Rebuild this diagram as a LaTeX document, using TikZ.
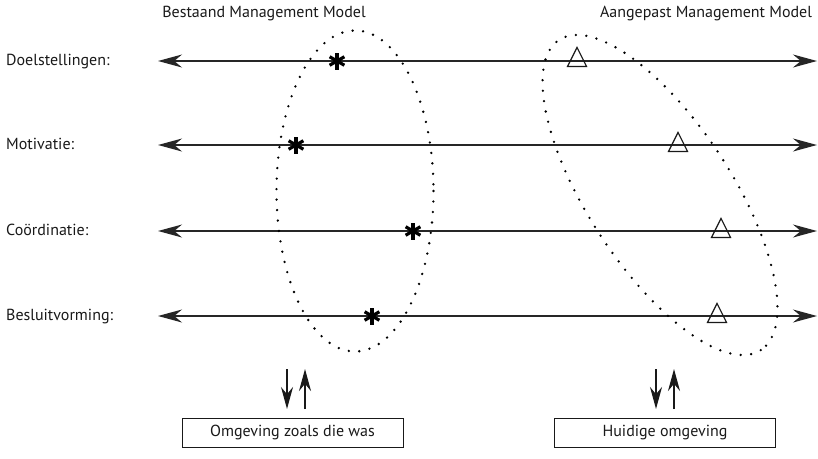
\documentclass[tikz,border=0pt]{standalone}
\usepackage{fontspec}
\setmainfont{PT Sans}
\usetikzlibrary{arrows.meta,shapes.geometric,positioning}

\tikzset{
  tekst/.style={font=\fontsize{16}{19}\selectfont, text=black!90},
  rij/.style={tekst, anchor=base west, inner sep=0pt},
  as/.style={draw=black!85, line width=1.4pt,
    {Stealth[length=24pt,width=13pt]}-{Stealth[length=24pt,width=13pt]}},
  ster/.style={circle, minimum size=19pt, inner sep=0pt,
    path picture={\foreach \a in {30,90,150,210,270,330}
      \draw[line width=3.2pt, black] (path picture bounding box.center) -- ++(\a:8.5pt);}},
  drie/.style={isosceles triangle, isosceles triangle stretches, shape border rotate=90,
    draw=black!90, line width=1.2pt, minimum width=19pt, minimum height=19pt,
    inner sep=0pt, anchor=south},
  omg/.style={tekst, draw=black!90, line width=0.9pt, minimum width=221pt, minimum height=29pt},
  stip/.style={black, line width=2.6pt, line cap=round, dash pattern=on 0pt off 10.5pt},
  pijl/.style={draw=black!90, line width=1.7pt, -{Stealth[length=22pt,width=12pt]}}
}

\begin{document}
\begin{tikzpicture}[x=1pt, y=-1pt]
  \useasboundingbox (0,0) rectangle (818,458);

  % Kopjes
  \node[tekst] (bestaand) at (264,14) {Bestaand Management Model};
  \node[tekst] (aangepast) at (706,14) {Aangepast Management Model};

  % Rijen
  \node[rij] (doel) at (6,65) {Doelstellingen:};
  \node[rij] (moti) at (6,149) {Motivatie:};
  \node[rij] (coor) at (6,235) {Coördinatie:};
  \node[rij] (besl) at (6,320) {Besluitvorming:};

  \foreach \y/\n in {61/1,145/2,231/3,316/4} {
    \coordinate (L\n) at (158,\y);
    \coordinate (R\n) at (817,\y);
    \draw[as] (L\n) -- (R\n);
  }

  % Ellipsen
  \draw[stip] (355,191) ellipse [x radius=78.5, y radius=160.5];
  \draw[stip, rotate around={-57:(660,195)}] (660,195) ellipse [x radius=185, y radius=72];

  % Bestaand
  \node[ster] (s1) at (337,61) {};
  \node[ster] (s2) at (296,145) {};
  \node[ster] (s3) at (413,231) {};
  \node[ster] (s4) at (372,316) {};

  % Aangepast
  \node[drie] (t1) at (577,67) {};
  \node[drie] (t2) at (678,152) {};
  \node[drie] (t3) at (721,238) {};
  \node[drie] (t4) at (717,323) {};

  % Omgeving
  \node[omg] (was) at (292.5,432.5) {Omgeving zoals die was};
  \node[omg] (huidig) at (665,432.5) {Huidige omgeving};

  \coordinate (wasA) at (287,369);
  \coordinate (wasB) at (287,409);
  \coordinate (wasC) at (305,409);
  \coordinate (wasD) at (305,369);
  \coordinate (huiA) at (656,369);
  \coordinate (huiB) at (656,409);
  \coordinate (huiC) at (674,409);
  \coordinate (huiD) at (674,369);

  \draw[pijl] (wasA) -- (wasB);
  \draw[pijl] (wasC) -- (wasD);
  \draw[pijl] (huiA) -- (huiB);
  \draw[pijl] (huiC) -- (huiD);
\end{tikzpicture}
\end{document}
